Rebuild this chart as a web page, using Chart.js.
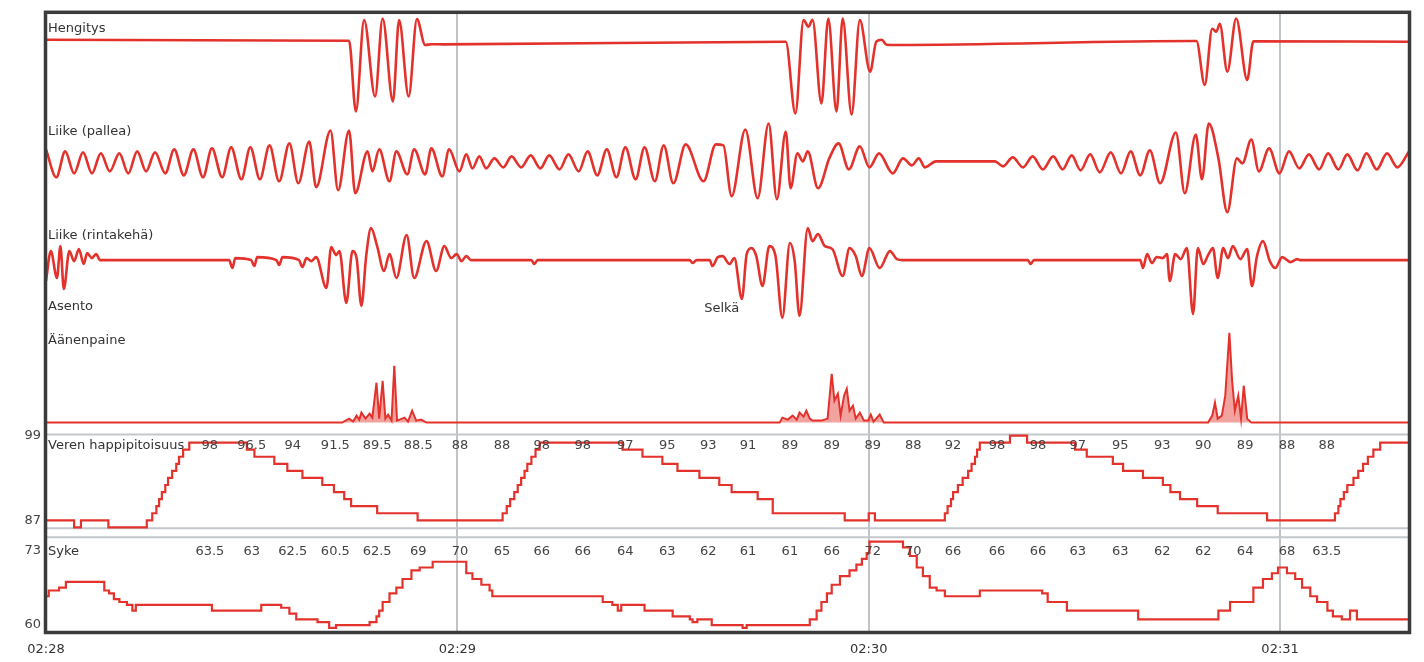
<!DOCTYPE html>
<html>
<head>
<meta charset="utf-8">
<script src="https://cdn.jsdelivr.net/npm/chart.js@4.4.1/dist/chart.umd.min.js"></script>
<style>
  html, body { margin: 0; padding: 0; background: #fff; }
  canvas { display: block; }
</style>
</head>
<body>
<canvas id="unigrafiikka" width="1424" height="662"></canvas>
<script>
// aika sekunteina klo 02:28:00 alkaen, arvot luettu kuvasta
const xTickTimes = [0, 60, 120, 180];
const xTickLabels = ['02:28', '02:29', '02:30', '02:31'];

const panelTitles = ['Hengitys', 'Liike (pallea)', 'Liike (rintakehä)', 'Asento', 'Äänenpaine', 'Veren happipitoisuus', 'Syke'];

const asentoTimes = [96.0];
const asentoNames = ['Selkä'];

const hengitys = [
  [0, 2], [44.2, 1], [45.2, -70], [46.4, 21.7], [48.0, -55], [49.1, 23.3], [50.6, -60], [51.5, 21.7],
  [52.9, -55], [54.1, 22.7], [55.3, -3.3], [56.2, -2.5], [58, -2.7], [107.9, 0], [109.3, -72],
  [110.5, 21.7], [111.2, 15], [111.8, 22], [113.1, -62], [114.1, 23.3], [115.3, -70], [116.2, 23.3],
  [117.5, -73], [118.7, 21.7], [120.2, -30], [121.1, 0], [121.9, 2], [122.6, -3], [124, -3.3],
  [167.8, 0.7], [169.0, -43.3], [170.1, 13], [170.7, 10], [171.2, 18], [172.3, -30], [173.6, 23.3],
  [175.2, -38.3], [176.1, 0.5], [198.8, 0]
];

const pallea = [
  [0, 10], [1.5, -18], [2.8, 8], [4.1, -14], [5.4, 7], [6.7, -14], [8.0, 6], [9.3, -12], [10.7, 6],
  [12.0, -14], [13.3, 8], [14.6, -12], [15.9, 7], [17.4, -14], [18.7, 10], [20.1, -16], [21.5, 10],
  [22.9, -18], [24.2, 11], [25.7, -18], [27.0, 12], [28.5, -20], [29.8, 12], [31.2, -20], [32.6, 14],
  [34.0, -22], [35.5, 16], [36.8, -24], [38.4, 18], [39.4, -28], [41.5, 29], [42.6, -31], [44.2, 29],
  [45.1, -34], [46.9, 8], [47.6, -12], [48.6, 10], [50.1, -22], [51.1, 8], [52.7, -15], [53.7, 10],
  [55.3, -15], [56.2, 11], [57.8, -17], [58.8, 10], [60.3, -12], [61.3, 5], [62.2, -9], [63.2, 3],
  [64.2, -9], [65.4, 1], [66.7, -8], [67.9, 3], [69.3, -8], [70.7, 4], [72.1, -9], [73.4, 4],
  [74.9, -10], [76.2, 5], [77.7, -12], [79.0, 8], [80.4, -16], [81.8, 10], [83.2, -18], [84.5, 12],
  [86.0, -20], [87.3, 12], [88.8, -22], [90.1, 14], [91.5, -24], [93.3, 15], [95.9, -22], [97.7, 15],
  [98.8, 14], [100.0, -37], [102.0, 30], [103.8, -39], [105.4, 36], [106.6, -40], [107.9, 28],
  [108.6, -29], [109.6, 6], [110.4, -2], [111.1, 8], [112.6, -29], [114.3, 2], [115.6, 16],
  [117.1, -10], [118.7, 13], [120.1, -8], [121.5, 6], [123.5, -14], [125.0, 1], [126.3, -6],
  [127.3, 1], [128.2, -8], [129.8, -2], [138.4, -2], [139.6, -7], [141.0, 2], [142.5, -8], [143.9, 3],
  [145.4, -10], [146.9, 3], [148.3, -10], [149.6, 4], [150.9, -11], [152.3, 5], [153.7, -13],
  [155.3, 7], [156.8, -14], [158.2, 8], [159.6, -16], [161.0, 9], [162.5, -24], [164.8, 27],
  [166.1, -34], [167.7, 25], [168.6, -20], [169.6, 36], [171.0, 1], [172.3, -53], [173.7, 1],
  [174.5, -4], [175.8, 20], [176.9, -12], [178.4, 11], [179.9, -14], [181.3, 8], [182.8, -9],
  [184.2, 5], [185.7, -10], [187.0, 6], [188.5, -10], [189.8, 5], [191.3, -11], [192.6, 6],
  [194.1, -10], [195.6, 6], [197.1, -8], [198.8, 8]
];

const rintakeha = [
  [0, -21], [0.7, 9], [1.6, -18], [2.1, 14], [2.6, -29], [3.4, 9], [4.1, -1], [4.8, 11], [5.5, -4],
  [6.0, 7], [6.7, 2], [7.3, 6], [7.9, 0], [26.7, 0], [27.2, -8], [27.6, 2], [29.9, 0], [30.4, -6],
  [30.8, 3], [33.6, 0], [34.0, -5], [34.5, 3], [36.9, 0], [37.4, -7], [38.0, 2], [38.7, -1], [39.4, 3],
  [40.9, -28], [41.6, 13], [42.3, 5], [42.8, 9], [43.8, -43], [44.7, 9], [45.3, 2], [46.0, -46],
  [46.7, 4], [47.4, 32], [48.3, 14], [49.3, -11], [50.1, 6], [51.1, -18], [52.6, 25], [53.7, -18],
  [55.5, 19], [56.9, -11], [58.1, 14], [59.1, 2], [59.9, 6], [60.6, -1], [61.3, 4], [62.0, 0],
  [70.8, 0], [71.2, -4], [71.7, 0], [93.9, 0], [94.3, -3], [94.9, 0], [96.8, 0], [97.2, -6], [98.0, 3],
  [98.7, 4], [99.7, -4], [100.4, 2], [101.5, -39], [102.2, 6], [102.9, 12], [103.6, 4], [104.5, -26],
  [105.5, 14], [106.4, 4], [107.4, -58], [108.5, 17], [109.2, -1], [109.9, -56], [111.1, 32],
  [111.8, 19], [112.6, 26], [113.6, 14], [114.7, 11], [116.2, -16], [117.2, 12], [118.1, 4],
  [119.0, -16], [120.1, 12], [121.6, -8], [123.1, 9], [124.1, 1], [125.0, 0], [143.2, 0], [143.6, -4],
  [144.1, 0], [159.6, 0], [160.0, -8], [160.6, 6], [161.3, -3], [162.0, 3], [162.9, 2], [163.5, 6],
  [163.9, -21], [164.7, 6], [165.5, 1], [166.4, 12], [167.3, -54], [168.0, 12], [168.8, -4],
  [169.5, 5], [170.2, 12], [170.9, -18], [171.7, 12], [172.4, 2], [173.1, 14], [174.2, 1], [175.2, 11],
  [175.9, -26], [176.6, 3], [177.5, 19], [178.5, -1], [179.3, -8], [180.3, 3], [181.5, -2], [182.5, 1],
  [182.9, 0], [198.8, 0]
];

const aanenpaine = [
  [0, 0], [43.2, 0], [44.2, 4], [44.8, 1], [45.3, 7], [45.7, 3], [46.0, 10], [46.6, 4], [47.2, 9],
  [47.6, 5], [48.2, 40], [48.6, 4], [49.1, 42], [49.5, 4], [49.9, 8], [50.4, 2], [50.8, 57], [51.2, 2],
  [52.3, 5], [52.8, 1], [53.4, 12], [54.0, 2], [54.7, 3], [55.5, 0], [107.0, 0], [107.4, 5], [108.2, 3],
  [108.9, 7], [109.5, 3], [109.9, 10], [110.5, 6], [110.9, 12], [111.4, 4], [111.8, 2], [113.1, 2],
  [114.0, 4], [114.6, 49], [115.0, 22], [115.5, 29], [115.9, 7], [116.4, 27], [116.8, 34], [117.2, 12],
  [117.7, 17], [118.1, 4], [118.7, 10], [119.3, 2], [119.9, 2], [120.3, 8], [120.7, 1], [121.6, 8],
  [122.2, 0], [169.5, 0], [170.1, 7], [170.5, 20], [170.9, 4], [171.5, 7], [172.0, 27], [172.6, 90],
  [173.0, 42], [173.4, 12], [173.9, 27], [174.3, 4], [174.7, 37], [175.2, 4], [175.8, 0], [198.8, 0]
];

// happisaturaatio %, porrasarvot muutoskohdista
const spo2 = [
  [0, 87], [4.1, 86], [5.1, 87], [9.1, 86], [14.7, 87], [15.5, 88], [16.1, 89], [16.5, 90], [16.9, 91],
  [17.4, 92], [17.8, 93], [18.4, 94], [19.0, 95], [19.4, 96], [20.0, 97], [20.9, 98], [29.3, 97],
  [30.4, 96], [33.3, 95], [35.2, 94], [37.4, 93], [40.3, 92], [42.0, 91], [43.5, 90], [44.5, 89],
  [48.3, 88], [54.2, 87], [66.6, 88], [67.2, 89], [67.7, 90], [68.3, 91], [68.8, 92], [69.3, 93],
  [69.8, 94], [70.2, 95], [70.8, 96], [71.4, 97], [72.0, 98], [84.1, 97], [87.0, 96], [89.9, 95],
  [92.1, 94], [95.3, 93], [98.2, 92], [100.0, 91], [103.8, 90], [106.0, 88], [116.5, 87], [120.0, 88],
  [120.9, 87], [131.1, 88], [131.5, 89], [132.0, 90], [132.3, 91], [133.0, 92], [133.7, 93],
  [134.5, 94], [135.0, 95], [135.5, 96], [135.8, 97], [136.2, 98], [140.6, 99], [143.1, 98],
  [150.1, 97], [151.8, 96], [155.6, 95], [157.1, 94], [160.0, 93], [162.9, 92], [164.0, 91],
  [165.4, 90], [167.9, 89], [170.9, 88], [178.1, 87], [188.0, 88], [188.5, 89], [188.8, 90],
  [189.3, 91], [189.8, 92], [190.7, 93], [191.4, 94], [192.1, 95], [192.8, 96], [193.6, 97],
  [194.6, 98], [198.8, 98]
];

// syke, lyöntiä/min
const syke = [
  [0, 65], [0.4, 66], [1.9, 66.5], [2.9, 67.5], [8.5, 66], [9.2, 65.5], [9.9, 64.5], [10.7, 64],
  [11.8, 63.5], [12.6, 62.5], [13.1, 63.5], [24.2, 62.5], [31.4, 63.5], [34.3, 63], [35.5, 62],
  [36.5, 61], [39.6, 60.5], [41.3, 59.5], [42.3, 60], [47.2, 60.5], [48.2, 61.5], [48.6, 62.5],
  [49.1, 64], [50.1, 65.5], [51.1, 66.5], [52.0, 68], [53.3, 69.5], [54.5, 70], [56.4, 71], [61.3, 69],
  [62.2, 68], [63.5, 67], [64.7, 66], [65.1, 65], [81.2, 64], [82.6, 63.5], [83.4, 62.5], [83.9, 63.5],
  [87.3, 62.5], [91.4, 61.5], [93.9, 61], [94.3, 60.5], [95.0, 61], [97.1, 60], [101.6, 59.5],
  [102.2, 60], [111.4, 61], [112.4, 62.5], [113.1, 64], [113.9, 65.5], [114.6, 67], [115.8, 68.5],
  [117.2, 69.5], [118.2, 70.5], [119.0, 71.5], [119.7, 72.5], [120.1, 74.5], [125.0, 73.5], [126.0, 72],
  [127.0, 70], [127.9, 68.5], [128.9, 66.5], [129.9, 66], [131.1, 65], [136.2, 66], [145.3, 65.5],
  [146.1, 64], [148.9, 62.5], [159.3, 61], [171.0, 62.5], [172.7, 64], [176.1, 66.5], [177.5, 68],
  [178.8, 69], [179.7, 70], [181.0, 69], [182.2, 68], [183.2, 66.5], [184.4, 65], [185.4, 64],
  [186.9, 62.5], [187.7, 61.5], [189.0, 61], [190.2, 62.5], [191.2, 61], [198.8, 61]
];

// 6 s välein näytettävät lukemat
const labelTimes = [23.9, 30.0, 36.0, 42.2, 48.3, 54.3, 60.4, 66.5, 72.3, 78.3, 84.5, 90.6, 96.6, 102.4,
  108.5, 114.6, 120.6, 126.5, 132.3, 138.7, 144.7, 150.5, 156.7, 162.8, 168.8, 174.9, 181.0, 186.8];
const spoLabels = ['98', '96.5', '94', '91.5', '89.5', '88.5', '88', '88', '98', '98', '97', '95', '93', '91',
  '89', '89', '89', '88', '92', '98', '98', '97', '95', '93', '90', '89', '88', '88'];
const sykeLabels = ['63.5', '63', '62.5', '60.5', '62.5', '69', '70', '65', '66', '66', '64', '63', '62', '61',
  '61', '66', '72', '70', '66', '66', '66', '63', '63', '62', '62', '64', '68', '63.5'];

const punainen = '#e3322c';
const fontti = '"DejaVu Sans", Arial, sans-serif';
const titleAxes = ['yHeng', 'yPall', 'yRint', 'yAsento', 'yAan', 'ySpo2', 'ySyke'];
const titleOffsets = [16, 15, 16, 6, 10, 11, 14];

const pisteet = arr => arr.map(([x, y]) => ({x, y}));

const kayra = (data, axis, extra) => Object.assign({
  data: pisteet(data),
  yAxisID: axis,
  borderColor: punainen,
  borderWidth: 2.6,
  pointRadius: 0,
  clip: false,
  cubicInterpolationMode: 'monotone'
}, extra || {});

const paneelit = {
  id: 'paneelit',
  beforeDatasetsDraw(chart) {
    const {ctx, chartArea: a, scales: s} = chart;
    ctx.save();
    ctx.strokeStyle = '#c3c7cb';
    ctx.lineWidth = 2;
    [s.ySpo2.top, s.ySpo2.bottom, s.ySyke.top].forEach(y => {
      ctx.beginPath();
      ctx.moveTo(a.left, y);
      ctx.lineTo(a.right, y);
      ctx.stroke();
    });
    ctx.restore();
  },
  afterDatasetsDraw(chart) {
    const {ctx, chartArea: a, scales: s} = chart;
    ctx.save();
    ctx.font = '13px ' + fontti;
    ctx.textBaseline = 'middle';
    ctx.fillStyle = '#333';
    ctx.textAlign = 'left';
    titleAxes.forEach((id, i) => ctx.fillText(panelTitles[i], a.left + 2, s[id].top + titleOffsets[i]));
    asentoTimes.forEach((t, i) => ctx.fillText(asentoNames[i], s.x.getPixelForValue(t), s.yAsento.top + 8));

    ctx.textAlign = 'center';
    ctx.fillStyle = '#444';
    labelTimes.forEach((t, i) => {
      const x = s.x.getPixelForValue(t);
      ctx.fillText(spoLabels[i], x, s.ySpo2.top + 11);
      ctx.fillText(sykeLabels[i], x, s.ySyke.top + 14);
    });

    ctx.strokeStyle = '#3b3b3b';
    ctx.lineWidth = 3.5;
    ctx.strokeRect(a.left - 0.5, a.top - 0.5, a.width + 1, a.height + 1);
    ctx.restore();
  }
};

const piiloakseli = (min, max, weight) => ({
  type: 'linear', position: 'left', stack: 'rivit', stackWeight: weight,
  min: min, max: max, display: false
});

const tikkiakseli = (min, max, weight, arvot) => ({
  type: 'linear', position: 'left', stack: 'rivit', stackWeight: weight,
  min: min, max: max,
  afterBuildTicks: scale => { scale.ticks = arvot.map(v => ({value: v})); },
  afterFit: scale => { scale.width = 46; },
  grid: {display: false, drawTicks: false},
  border: {display: false},
  ticks: {padding: 5, color: '#444', font: {size: 13, family: fontti}}
});

// pinotut akselit: viimeisenä määritelty piirtyy ylimmäksi
new Chart(document.getElementById('unigrafiikka'), {
  type: 'line',
  data: {
    datasets: [
      kayra(hengitys, 'yHeng'),
      kayra(pallea, 'yPall'),
      kayra(rintakeha, 'yRint'),
      kayra(aanenpaine, 'yAan', {
        cubicInterpolationMode: 'default', tension: 0, borderWidth: 2,
        fill: 'origin', backgroundColor: 'rgba(227, 50, 44, 0.45)'
      }),
      kayra(spo2, 'ySpo2', {stepped: true, borderWidth: 2.2}),
      kayra(syke, 'ySyke', {stepped: true, borderWidth: 2.2})
    ]
  },
  options: {
    responsive: false,
    animation: false,
    events: [],
    layout: {padding: {top: 11, right: 15, left: 0, bottom: 0}},
    plugins: {legend: {display: false}, tooltip: {enabled: false}},
    scales: {
      x: {
        type: 'linear', min: 0, max: 198.8,
        afterBuildTicks: scale => { scale.ticks = xTickTimes.map(v => ({value: v})); },
        afterFit: scale => { scale.height = 30; },
        ticks: {
          padding: 10, color: '#333', maxRotation: 0, autoSkip: false,
          font: {size: 13, family: fontti},
          callback: (v, i) => xTickLabels[i]
        },
        grid: {
          drawTicks: false, lineWidth: 2,
          color: c => (c.tick && c.tick.value === 0) ? 'rgba(0,0,0,0)' : '#bfc4c9'
        },
        border: {display: false}
      },
      ySyke: tikkiakseli(58.79, 75.25, 95, [60, 73]),
      yGap: piiloakseli(0, 1, 9),
      ySpo2: tikkiakseli(85.87, 99.14, 94, [87, 99]),
      yAan: piiloakseli(-12, 92, 104),
      yAsento: piiloakseli(0, 1, 30),
      yRint: piiloakseli(-41, 41, 82),
      yPall: piiloakseli(-60, 43, 103),
      yHeng: piiloakseli(-75, 29, 104)
    }
  },
  plugins: [paneelit]
});
</script>
</body>
</html>
